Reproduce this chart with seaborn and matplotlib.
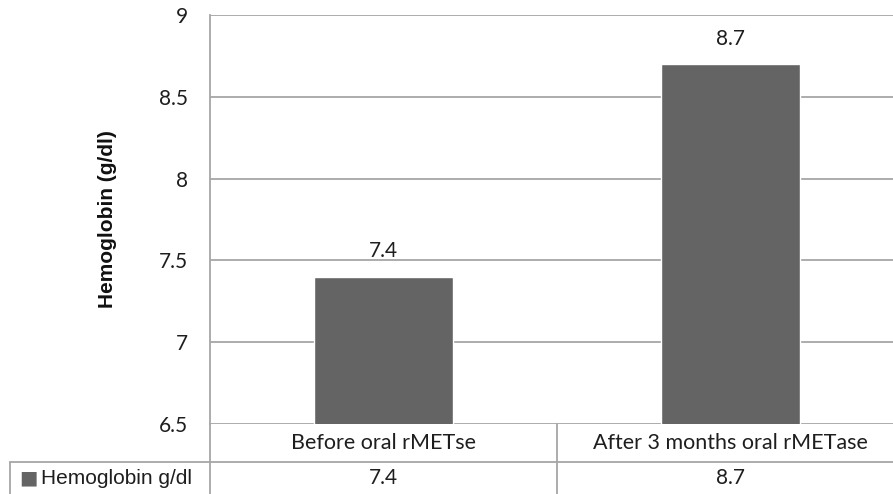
import matplotlib
matplotlib.use("Agg")
import matplotlib.pyplot as plt
import matplotlib.transforms as mtransforms
import seaborn as sns
import pandas as pd

# ------------------------------------------------------
# data
# ------------------------------------------------------
categories = ["Before oral rMETse", "After 3 months oral rMETase"]
hemoglobin = [7.4, 8.7]
series_name = "Hemoglobin g/dl"
y_ticks = [6.5, 7, 7.5, 8, 8.5, 9]

df = pd.DataFrame({"category": categories, "value": hemoglobin})

sns.set_theme(style="white")
plt.rcParams["font.family"] = ["Lato", "DejaVu Sans"]

bar_col = "#646464"
line_col = "#a6a6a6"
txt_col = "#1e1e1e"

W, H = 893, 494
ax_l, ax_t, ax_w, ax_h = 210, 15, 694, 409   # plot area in pixels

fig = plt.figure(figsize=(W / 100, H / 100), dpi=100)
ax = fig.add_axes([ax_l / W, 1 - (ax_t + ax_h) / H, ax_w / W, ax_h / H])

sns.barplot(data=df, x="category", y="value", color=bar_col, width=0.40,
            saturation=1, ax=ax, zorder=3)
ax.set_ylim(6.5, 9)
ax.set_yticks(y_ticks)
ax.set_yticklabels([f"{t:g}" for t in y_ticks], fontsize=15, color=txt_col)
ax.tick_params(axis="y", length=0, pad=16)
ax.set_xticks([])
ax.set_xlabel("")
ax.set_ylabel("Hemoglobin (g/dl)", family="Liberation Sans", weight="bold",
              fontsize=15, labelpad=30, color="#111111")
ax.yaxis.grid(True, color=line_col, lw=1.3)
ax.set_axisbelow(True)
for side in ["top", "right", "bottom"]:
    ax.spines[side].set_visible(False)
ax.spines["left"].set_color(line_col)
ax.spines["left"].set_linewidth(1.3)

# value labels above the bars
for p, v in zip(ax.patches, hemoglobin):
    ax.annotate(f"{v:g}", (p.get_x() + p.get_width() / 2, p.get_height()),
                xytext=(0, 11), textcoords="offset points", ha="center",
                va="bottom", fontsize=15, color=txt_col)

# ------------------------------------------------------
# data table under the plot (drawn by hand, excel style)
# ------------------------------------------------------
def ax_x(px):
    return (px - ax_l) / ax_w

def ax_y(py):
    return (ax_t + ax_h - py) / ax_h

row1_mid, row_split, row2_mid, tbl_bottom = 443, 462, 478, 500
blend = mtransforms.blended_transform_factory(ax.transData, ax.transAxes)
line_kw = dict(color=line_col, lw=1.3, clip_on=False, transform=ax.transAxes)

# horizontal line between header row and value row
ax.plot([ax_x(10), 1.0], [ax_y(row_split)] * 2, **line_kw)
# left border of the row label cell
ax.plot([ax_x(10)] * 2, [ax_y(row_split), ax_y(tbl_bottom)], **line_kw)
# plot area left edge continues down through the table
ax.plot([0, 0], [0, ax_y(tbl_bottom)], **line_kw)
# divider between the categories
for i in range(len(categories) - 1):
    ax.plot([i + 0.5] * 2, [0, ax_y(tbl_bottom)], color=line_col, lw=1.3,
            clip_on=False, transform=blend)

for i, (cat, v) in enumerate(zip(categories, hemoglobin)):
    ax.text(i, ax_y(row1_mid), cat, transform=blend, ha="center",
            va="center", fontsize=15.5, color=txt_col)
    ax.text(i, ax_y(row2_mid), f"{v:g}", transform=blend, ha="center",
            va="center", fontsize=15, color=txt_col)

ax.text(ax_x(19), ax_y(row2_mid), "\u25A0", transform=ax.transAxes,
        ha="left", va="center", fontsize=14, color=bar_col,
        family="DejaVu Sans")
ax.text(ax_x(41), ax_y(row2_mid), series_name, transform=ax.transAxes,
        ha="left", va="center", fontsize=15, color=txt_col,
        family="Liberation Sans")

# one slot per category, as seaborn sets it
ax.set_xlim(-0.5, len(categories) - 0.5)

fig.savefig("out.png", dpi=100)
plt.close()
